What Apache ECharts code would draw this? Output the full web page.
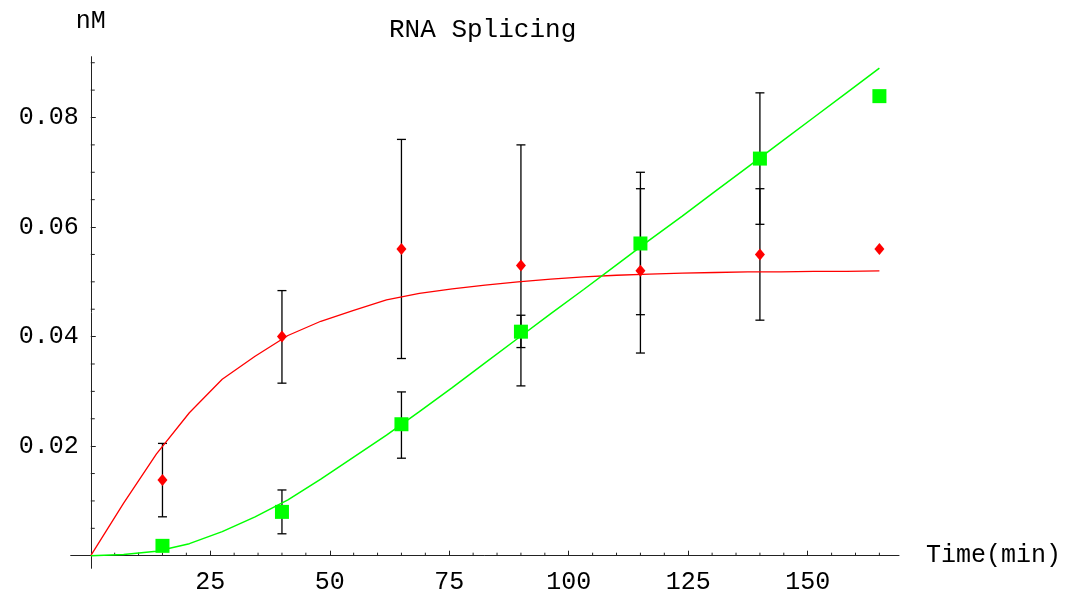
<!DOCTYPE html>
<html>
<head>
<meta charset="utf-8">
<style>
html,body{margin:0;padding:0;background:#fff;}
#chart{width:1070px;height:597px;}
</style>
<script src="https://cdn.jsdelivr.net/npm/echarts@6/dist/echarts.min.js"></script>
</head>
<body>
<div id="chart"></div>
<script>
// ---- data ----
const times = [15, 40, 65, 90, 115, 140, 165];
const splicedMean = [0.0138, 0.0400, 0.0560, 0.0530, 0.0520, 0.0550, 0.0560];
const splicedLow  = [0.0071, 0.0315, 0.0360, 0.0310, 0.0370, 0.0430, null];
const splicedHigh = [0.0205, 0.0484, 0.0760, 0.0750, 0.0670, 0.0670, null];
const productMean = [0.0018, 0.0080, 0.0240, 0.0409, 0.0570, 0.0725, 0.0839];
const productLow  = [null, 0.0040, 0.0178, 0.0380, 0.0440, 0.0605, null];
const productHigh = [null, 0.0120, 0.0299, 0.0439, 0.0700, 0.0845, null];

const fitTimes = [0, 6.875, 13.75, 20.625, 27.5, 34.375, 41.25, 48.125, 55, 61.875, 68.75, 75.625,
  82.5, 89.375, 96.25, 103.125, 110, 116.875, 123.75, 130.625, 137.5, 144.375, 151.25, 158.125, 165];
const redFit = [0, 0.0096, 0.0186, 0.0261, 0.0322, 0.0364, 0.0402, 0.0428, 0.0448, 0.0467, 0.0479, 0.0487,
  0.0494, 0.0500, 0.0505, 0.0509, 0.0512, 0.0514, 0.0516, 0.0517, 0.0518, 0.0518, 0.0519, 0.0519, 0.0520];
const greenFit = [0, 0.0002, 0.0008, 0.0022, 0.0044, 0.0071, 0.0102, 0.0140, 0.0180, 0.0220, 0.0263, 0.0307,
  0.0352, 0.0397, 0.0442, 0.0486, 0.0531, 0.0576, 0.0620, 0.0665, 0.0710, 0.0755, 0.0800, 0.0845, 0.0890];

const xMajorTicks = [25, 50, 75, 100, 125, 150];
const xMinorTicks = [5, 10, 15, 20, 30, 35, 40, 45, 55, 60, 65, 70, 80, 85, 90, 95, 105, 110, 115, 120, 130, 135, 140, 145, 155, 160, 165];
const yMajorTicks = [0.02, 0.04, 0.06, 0.08];
const yMinorTicks = [0.005, 0.01, 0.015, 0.025, 0.03, 0.035, 0.045, 0.05, 0.055, 0.065, 0.07, 0.075, 0.085, 0.09];

const titleText = 'RNA Splicing';
const xName = 'Time(min)';
const yName = 'nM';

// ---- chart ----
const FONT = "'Liberation Mono', 'Courier New', monospace";
const X_MIN = -4.2, X_MAX = 169.1, Y_MIN = -0.0023, Y_MAX = 0.0911;
const axisColor = '#222';

function pairs(xs, ys) { return xs.map((x, i) => [x, ys[i]]); }
function errData(xs, lo, hi) {
  const out = [];
  xs.forEach((x, i) => { if (lo[i] != null && hi[i] != null) out.push([x, lo[i], hi[i]]); });
  return out;
}
function errRender(params, api) {
  const x = api.value(0);
  const lo = api.coord([x, api.value(1)]);
  const hi = api.coord([x, api.value(2)]);
  const w = 4.5;
  const style = { stroke: '#000', lineWidth: 1.3 };
  return {
    type: 'group',
    children: [
      { type: 'line', shape: { x1: lo[0], y1: lo[1], x2: hi[0], y2: hi[1] }, style },
      { type: 'line', shape: { x1: lo[0] - w, y1: lo[1], x2: lo[0] + w, y2: lo[1] }, style },
      { type: 'line', shape: { x1: hi[0] - w, y1: hi[1], x2: hi[0] + w, y2: hi[1] }, style }
    ]
  };
}
// minor ticks drawn at axis values through the library's scales
function xMinorRender(params, api) {
  const p = api.coord([api.value(0), 0]);
  return { type: 'line', shape: { x1: p[0], y1: p[1], x2: p[0], y2: p[1] - 3 },
    style: { stroke: axisColor, lineWidth: 1 } };
}
function yMinorRender(params, api) {
  const p = api.coord([0, api.value(1)]);
  return { type: 'line', shape: { x1: p[0], y1: p[1], x2: p[0] + 4, y2: p[1] },
    style: { stroke: axisColor, lineWidth: 1 } };
}

const chart = echarts.init(document.getElementById('chart'), null, { renderer: 'canvas' });
chart.setOption({
  animation: false,
  backgroundColor: '#fff',
  title: {
    text: titleText,
    left: 384, top: 12,
    textStyle: { fontFamily: FONT, fontSize: 26, fontWeight: 'normal', color: '#000' }
  },
  grid: { left: 70.7, right: 171, top: 56.7, bottom: 28.7, containLabel: false, outerBoundsMode: 'none' },
  xAxis: {
    type: 'value', min: X_MIN, max: X_MAX, position: 'bottom',
    axisLine: { show: true, onZero: true, lineStyle: { color: axisColor, width: 1 } },
    axisTick: { show: true, inside: true, length: 5, customValues: xMajorTicks, lineStyle: { color: axisColor } },
    axisLabel: { show: true, customValues: xMajorTicks, margin: 2, fontFamily: FONT, fontSize: 25, color: '#000' },
    splitLine: { show: false },
    name: xName, nameLocation: 'end', nameGap: 27,
    nameTextStyle: { fontFamily: FONT, fontSize: 25, color: '#000', verticalAlign: 'middle' }
  },
  yAxis: {
    type: 'value', min: Y_MIN, max: Y_MAX, position: 'left',
    axisLine: { show: true, onZero: true, lineStyle: { color: axisColor, width: 1 } },
    axisTick: { show: true, inside: true, length: 5, customValues: yMajorTicks, lineStyle: { color: axisColor } },
    axisLabel: { show: true, customValues: yMajorTicks, margin: -8, fontFamily: FONT, fontSize: 25, color: '#000',
      formatter: v => v.toFixed(2) },
    splitLine: { show: false },
    name: yName, nameLocation: 'end', nameGap: 23,
    nameTextStyle: { fontFamily: FONT, fontSize: 25, color: '#000' }
  },
  series: [
    { type: 'custom', name: 'x-minor-ticks', renderItem: xMinorRender, clip: false, silent: true, z: 1,
      data: xMinorTicks.map(v => [v, 0]) },
    { type: 'custom', name: 'y-minor-ticks', renderItem: yMinorRender, clip: false, silent: true, z: 1,
      data: yMinorTicks.map(v => [0, v]) },
    { type: 'custom', name: 'err-red', renderItem: errRender,
      data: errData(times, splicedLow, splicedHigh), encode: { x: 0, y: [1, 2] }, z: 2, silent: true },
    { type: 'custom', name: 'err-green', renderItem: errRender,
      data: errData(times, productLow, productHigh), encode: { x: 0, y: [1, 2] }, z: 2, silent: true },
    { type: 'line', name: 'fit-red', data: pairs(fitTimes, redFit), showSymbol: false, symbol: 'none',
      lineStyle: { color: '#ff0000', width: 1.3 }, z: 3, silent: true },
    { type: 'line', name: 'fit-green', data: pairs(fitTimes, greenFit), showSymbol: false, symbol: 'none',
      lineStyle: { color: '#00ff00', width: 1.5 }, z: 3, silent: true },
    { type: 'scatter', name: 'spliced', data: pairs(times, splicedMean), symbol: 'diamond', symbolSize: [10, 12],
      itemStyle: { color: '#ff0000', opacity: 1 }, z: 4, silent: true },
    { type: 'scatter', name: 'product', data: pairs(times, productMean), symbol: 'rect', symbolSize: 14,
      itemStyle: { color: '#00ff00', opacity: 1 }, z: 5, silent: true }
  ]
});
</script>
</body>
</html>
